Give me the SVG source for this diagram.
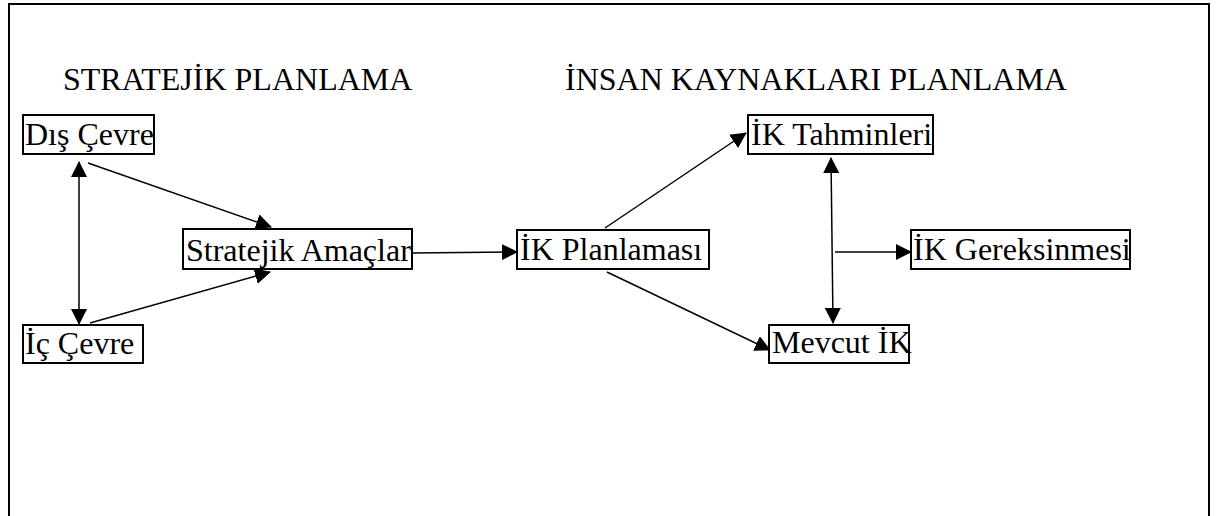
<svg xmlns="http://www.w3.org/2000/svg" width="1229" height="516" viewBox="0 0 1229 516">
<style>
text{font-family:"Liberation Serif","Times New Roman",serif;font-size:32px;fill:#000}
.box{fill:#fff;stroke:#000;stroke-width:2}
.conn{stroke:#000;stroke-width:1.5;fill:none}
</style>
<defs>
<marker id="ah" markerUnits="userSpaceOnUse" markerWidth="16" markerHeight="16" viewBox="0 0 16 16" refX="15" refY="8" orient="auto-start-reverse">
<path d="M0,0 L16,8 L0,16 Z" fill="#000"/>
</marker>
</defs>
<rect width="1229" height="516" fill="#fff"/>
<path d="M9,516 V4 H1209 V516" fill="none" stroke="#000" stroke-width="2"/>
<text x="63" y="90">STRATEJİK PLANLAMA</text>
<text x="565" y="90">İNSAN KAYNAKLARI PLANLAMA</text>
<g id="connectors">
<line class="conn" x1="79" y1="162" x2="79" y2="324" marker-start="url(#ah)" marker-end="url(#ah)"/>
<line class="conn" x1="88" y1="163" x2="271" y2="227" marker-end="url(#ah)"/>
<line class="conn" x1="90" y1="323" x2="270" y2="272" marker-end="url(#ah)"/>
<line class="conn" x1="413" y1="253" x2="517" y2="252" marker-end="url(#ah)"/>
<line class="conn" x1="605" y1="228" x2="746" y2="133" marker-end="url(#ah)"/>
<line class="conn" x1="607" y1="272" x2="770" y2="350" marker-end="url(#ah)"/>
<line class="conn" x1="831" y1="158" x2="833" y2="323" marker-start="url(#ah)" marker-end="url(#ah)"/>
<line class="conn" x1="835" y1="252" x2="911" y2="252" marker-end="url(#ah)"/>
</g>
<g id="dis-cevre"><rect class="box" x="23" y="115" width="131" height="39"/><text x="25" y="145">Dış Çevre</text></g>
<g id="ic-cevre"><rect class="box" x="23" y="325" width="120" height="38"/><text x="25" y="354">İç Çevre</text></g>
<g id="stratejik-amaclar"><rect class="box" x="183" y="229" width="229" height="40"/><text x="186" y="261">Stratejik Amaçlar</text></g>
<g id="ik-planlamasi"><rect class="box" x="517" y="230" width="192" height="39"/><text x="520" y="260">İK Planlaması</text></g>
<g id="ik-tahminleri"><rect class="box" x="748" y="115" width="185" height="39"/><text x="751" y="145">İK Tahminleri</text></g>
<g id="ik-gereksinmesi"><rect class="box" x="911" y="230" width="219" height="39"/><text x="913" y="260">İK Gereksinmesi</text></g>
<g id="mevcut-ik"><rect class="box" x="769" y="325" width="140" height="38"/><text x="772" y="353">Mevcut İK</text></g>
</svg>
